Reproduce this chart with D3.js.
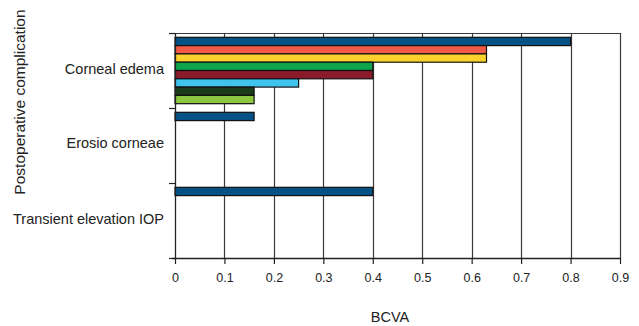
<!DOCTYPE html>
<html><head><meta charset="utf-8">
<script src="https://cdn.jsdelivr.net/npm/d3@7"></script>
<style>body{margin:0;background:#fff}svg{display:block}text{font-family:"Liberation Sans",Arial,sans-serif;fill:#222}</style>
</head><body>
<svg id="c" width="639" height="326"></svg>
<script>
const categories = ["Corneal edema", "Erosio corneae", "Transient elevation IOP"];
const seriesNames = ["S1","S2","S3","S4","S5","S6","S7","S8"];
const seriesColors = ["#045185","#f25a48","#fdd22e","#0ea64c","#8b1a2b","#40c4ee","#1b3b1b","#8dc63f"];
const cornealEdema = [0.8, 0.63, 0.63, 0.4, 0.4, 0.25, 0.16, 0.16];
const erosioCorneae = [0.16, 0, 0, 0, 0, 0, 0, 0];
const transientIOP = [0.4, 0, 0, 0, 0, 0, 0, 0];
const xTicks = [0,0.1,0.2,0.3,0.4,0.5,0.6,0.7,0.8,0.9];
const rows = [cornealEdema, erosioCorneae, transientIOP];

const svg = d3.select("#c");
const L=175, R=620, T=33, B=258;
const x = d3.scaleLinear().domain([0,0.9]).range([L,R]);
const y0 = d3.scaleBand().domain(categories).range([T,B]).padding(0);
const y1 = d3.scaleBand().domain(seriesNames).range([0,y0.bandwidth()]).paddingInner(0).paddingOuter(0.52);

// grid
svg.append("g").selectAll("line").data(xTicks.slice(1)).join("line")
  .attr("x1",d=>Math.round(x(d))+0.5).attr("x2",d=>Math.round(x(d))+0.5)
  .attr("y1",T).attr("y2",B).attr("stroke","#3a3a3a").attr("stroke-width",1.2);
svg.append("line").attr("x1",L).attr("x2",R).attr("y1",T+0.5).attr("y2",T+0.5).attr("stroke","#3a3a3a").attr("stroke-width",1.2);

// bars
categories.forEach((c,ci)=>{
  const g = svg.append("g").attr("transform",`translate(0,${y0(c)})`);
  g.selectAll("rect").data(rows[ci].map((v,i)=>({v,s:seriesNames[i],col:seriesColors[i]})).filter(d=>d.v>0))
   .join("rect")
   .attr("x",x(0)).attr("y",d=>y1(d.s)).attr("width",d=>x(d.v)-x(0)).attr("height",y1.bandwidth())
   .attr("fill",d=>d.col).attr("stroke","#111").attr("stroke-width",1.2);
});

// x axis
const xa = svg.append("g").attr("transform",`translate(0,${B})`)
  .call(d3.axisBottom(x).tickValues(xTicks).tickFormat(d3.format("")).tickSize(6));
xa.select(".domain").attr("stroke","#222").attr("stroke-width",1.3).attr("d",`M${L-3},0.5H${R}`);
xa.selectAll(".tick line").attr("stroke","#222").attr("stroke-width",1.2);
xa.selectAll(".tick text").attr("y",24).attr("dy",null).attr("font-size",12.5).style("fill","#222").attr("font-family","Liberation Sans, Arial, sans-serif");

// y axis
svg.append("line").attr("x1",L+0.5).attr("x2",L+0.5).attr("y1",T).attr("y2",B).attr("stroke","#222").attr("stroke-width",1.3);
const ybounds = [T, y0(categories[1]), y0(categories[2]), B];
svg.append("g").selectAll("line").data(ybounds).join("line")
  .attr("x1",L-6).attr("x2",L).attr("y1",d=>d+0.5).attr("y2",d=>d+0.5).attr("stroke","#222").attr("stroke-width",1.2);
svg.append("g").selectAll("text").data(categories).join("text")
  .attr("x",164).attr("y",(d,i)=>y0(d)+[41,40,41][i])
  .attr("text-anchor","end").attr("font-size",14.5).text(d=>d);

// titles
svg.append("text").attr("x",390).attr("y",322).attr("text-anchor","middle").attr("font-size",14.5).text("BCVA");
svg.append("text").attr("transform","translate(25,102) rotate(-90)").attr("text-anchor","middle").attr("font-size",15.5).text("Postoperative complication");
</script>
</body></html>
